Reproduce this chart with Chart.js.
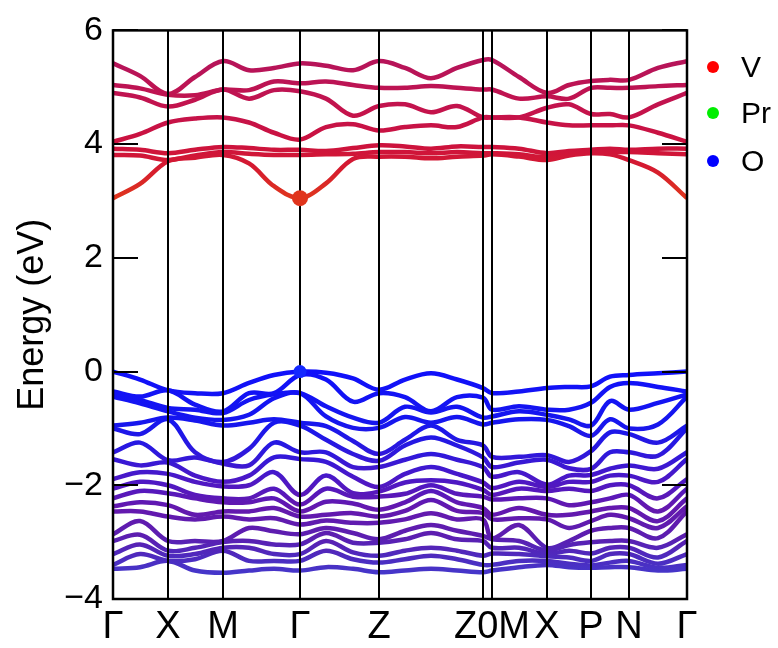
<!DOCTYPE html>
<html>
<head>
<meta charset="utf-8">
<title>Band structure</title>
<script src="https://cdn.jsdelivr.net/npm/chart.js@4.4.0/dist/chart.umd.min.js"></script>
<style>
    html, body { margin: 0; padding: 0; background: #fff; }
    #wrap { position: relative; width: 778px; height: 648px; }
    .key { position: absolute; left: 707px; height: 36px; line-height: 36px;
           font: 30px "Liberation Sans", Arial, sans-serif; color: #000; white-space: nowrap; }
    .key i { display: inline-block; width: 12px; height: 12px; border-radius: 50%;
             margin-right: 22px; vertical-align: middle; position: relative; top: -2px; }
</style>
</head>
<body>
<div id="wrap">
    <canvas id="bands" width="778" height="648"></canvas>
    <div class="key" style="top:50px"><i style="background:#ff0000"></i>V</div>
    <div class="key" style="top:96px"><i style="background:#00ee00"></i>Pr</div>
    <div class="key" style="top:144px"><i style="background:#0000ff"></i>O</div>
</div>
<script>
// k-path distance of each sampled point, high-symmetry points and their labels
const kPath = [0, 27, 55, 82, 110, 136, 161, 187, 213, 240, 266, 292, 318, 344, 370, 379, 406, 434, 456, 478, 497, 516, 545, 574];
const kTicks = [0, 55, 110, 187, 266, 370, 379, 434, 478, 516, 574];
const kLabels = ['Γ', 'X', 'M', 'Γ', 'Z', 'Z0', 'M', 'X', 'P', 'N', 'Γ'];

// conduction bands (eV)
const cb1 = [3.05, 3.30, 3.70, 3.76, 3.81, 3.66, 3.26, 3.05, 3.31, 3.74, 3.78, 3.78, 3.75, 3.78, 3.80, 3.82, 3.78, 3.72, 3.80, 3.84, 3.82, 3.72, 3.50, 3.05];
const cb2 = [3.81, 3.80, 3.72, 3.80, 3.86, 3.83, 3.81, 3.81, 3.82, 3.83, 3.86, 3.86, 3.84, 3.86, 3.84, 3.84, 3.82, 3.77, 3.84, 3.86, 3.86, 3.86, 3.84, 3.82];
const cb3 = [3.92, 3.90, 3.84, 3.90, 3.95, 3.93, 3.90, 3.90, 3.88, 3.93, 3.98, 3.96, 3.92, 3.96, 3.95, 3.95, 3.92, 3.84, 3.88, 3.90, 3.92, 3.90, 3.92, 3.92];
const cb4 = [4.04, 4.18, 4.38, 4.45, 4.47, 4.38, 4.20, 4.08, 4.30, 4.35, 4.24, 4.30, 4.33, 4.30, 4.47, 4.47, 4.47, 4.38, 4.33, 4.33, 4.33, 4.33, 4.20, 4.04];
const cb5 = [4.90, 4.82, 4.66, 4.78, 4.96, 4.80, 4.95, 4.93, 4.80, 4.50, 4.67, 4.70, 4.56, 4.67, 4.47, 4.47, 4.47, 4.64, 4.70, 4.53, 4.53, 4.47, 4.70, 4.90];
const cb6 = [5.04, 4.98, 4.87, 4.86, 4.96, 4.95, 5.10, 5.07, 5.10, 5.04, 4.99, 4.99, 5.02, 4.99, 4.96, 4.96, 4.80, 4.84, 4.80, 4.99, 4.99, 4.99, 5.02, 5.04];
const cb7 = [5.42, 5.20, 4.88, 5.18, 5.46, 5.30, 5.34, 5.42, 5.38, 5.30, 5.46, 5.34, 5.16, 5.34, 5.48, 5.48, 5.18, 4.90, 5.04, 5.11, 5.13, 5.13, 5.34, 5.46];

// valence bands (eV)
const vb01 = [0.00, -0.14, -0.33, -0.38, -0.38, -0.20, -0.06, 0.00, -0.02, -0.12, -0.32, -0.14, -0.03, -0.14, -0.29, -0.38, -0.35, -0.29, -0.27, -0.26, -0.09, -0.06, -0.03, 0.00];
const vb02 = [-0.35, -0.44, -0.33, -0.58, -0.70, -0.38, -0.38, -0.06, -0.14, -0.53, -0.38, -0.45, -0.70, -0.45, -0.46, -0.67, -0.61, -0.67, -0.67, -0.55, -0.27, -0.20, -0.27, -0.35];
const vb03 = [-0.40, -0.50, -0.64, -0.67, -0.73, -0.50, -0.40, -0.38, -0.61, -0.81, -0.90, -0.62, -0.72, -0.62, -0.81, -0.79, -0.70, -0.76, -0.84, -0.95, -0.52, -0.67, -0.55, -0.40];
const vb04 = [-0.44, -0.56, -0.70, -0.81, -0.85, -0.76, -0.47, -0.38, -0.79, -0.99, -0.99, -0.80, -0.90, -0.80, -0.93, -0.90, -0.84, -0.85, -0.96, -1.13, -0.84, -1.00, -0.93, -0.44];
const vb05 = [-0.95, -0.90, -0.81, -0.86, -0.95, -0.90, -0.84, -0.90, -0.96, -1.22, -1.45, -1.20, -0.95, -1.20, -1.30, -1.50, -1.50, -1.47, -1.59, -1.40, -1.07, -1.10, -1.25, -0.95];
const vb06 = [-1.00, -1.10, -0.84, -1.42, -1.59, -1.36, -0.90, -0.95, -1.20, -1.45, -1.57, -1.30, -1.16, -1.30, -1.51, -1.68, -1.60, -1.55, -1.70, -1.71, -1.42, -1.42, -1.48, -1.00];
const vb07 = [-1.42, -1.25, -1.56, -1.51, -1.62, -1.65, -1.25, -1.42, -1.42, -1.68, -1.68, -1.55, -1.45, -1.55, -1.68, -1.85, -1.77, -1.99, -1.83, -1.82, -1.71, -1.65, -1.71, -1.42];
const vb08 = [-1.54, -1.65, -1.60, -1.83, -1.94, -1.83, -1.51, -1.54, -1.59, -1.85, -2.03, -1.80, -1.68, -1.80, -1.95, -2.05, -1.94, -2.03, -1.94, -1.94, -1.83, -1.83, -1.94, -1.54];
const vb09 = [-1.89, -1.77, -1.80, -1.94, -2.02, -2.00, -1.77, -2.17, -1.83, -2.14, -2.11, -1.95, -1.91, -1.95, -2.08, -2.17, -2.06, -2.10, -2.06, -2.10, -2.00, -2.00, -2.23, -1.89];
const vb10 = [-2.06, -1.94, -2.00, -2.17, -2.23, -2.23, -2.06, -2.34, -2.06, -2.20, -2.20, -2.15, -2.00, -2.15, -2.20, -2.25, -2.23, -2.23, -2.35, -2.30, -2.23, -2.17, -2.46, -2.06];
const vb11 = [-2.23, -2.10, -2.14, -2.23, -2.30, -2.30, -2.23, -2.46, -2.29, -2.32, -2.43, -2.30, -2.10, -2.30, -2.40, -2.52, -2.40, -2.52, -2.52, -2.46, -2.40, -2.40, -2.63, -2.23];
const vb12 = [-2.37, -2.30, -2.35, -2.52, -2.46, -2.46, -2.40, -2.55, -2.52, -2.49, -2.55, -2.45, -2.26, -2.45, -2.49, -2.60, -2.58, -2.60, -2.75, -2.63, -2.52, -2.58, -2.75, -2.37];
const vb13 = [-2.46, -2.46, -2.55, -2.60, -2.55, -2.60, -2.58, -2.69, -2.62, -2.66, -2.66, -2.60, -2.49, -2.60, -2.60, -2.93, -2.70, -3.10, -2.98, -2.80, -2.75, -2.75, -2.93, -2.46];
const vb14 = [-2.86, -2.63, -2.98, -2.98, -2.98, -2.75, -2.81, -2.86, -2.75, -2.84, -2.95, -2.80, -2.70, -2.80, -2.89, -2.95, -2.98, -3.15, -3.05, -3.00, -2.98, -2.98, -3.10, -2.86];
const vb15 = [-2.98, -2.87, -3.15, -3.10, -3.00, -2.98, -3.04, -3.04, -2.84, -3.01, -3.01, -2.95, -2.84, -2.95, -2.98, -3.10, -3.10, -3.21, -3.15, -3.20, -3.10, -3.10, -3.27, -2.98];
const vb16 = [-3.21, -3.04, -3.24, -3.21, -3.10, -3.10, -3.21, -3.21, -2.98, -3.18, -3.24, -3.15, -3.10, -3.15, -3.24, -3.20, -3.21, -3.25, -3.27, -3.33, -3.21, -3.21, -3.38, -3.21];
const vb17 = [-3.40, -3.21, -3.33, -3.30, -3.15, -3.33, -3.33, -3.33, -3.15, -3.30, -3.36, -3.30, -3.24, -3.30, -3.40, -3.40, -3.33, -3.33, -3.38, -3.41, -3.36, -3.33, -3.45, -3.40];
const vb18 = [-3.47, -3.44, -3.33, -3.50, -3.54, -3.50, -3.47, -3.50, -3.44, -3.47, -3.53, -3.50, -3.47, -3.50, -3.53, -3.50, -3.44, -3.40, -3.44, -3.45, -3.44, -3.44, -3.50, -3.47];

// band edges marked with dots (CBM, VBM)
const edgeK = [187, 187];
const edgeE = [3.05, 0.00];

const bands = [cb1, cb2, cb3, cb4, cb5, cb6, cb7,
    vb01, vb02, vb03, vb04, vb05, vb06, vb07, vb08, vb09, vb10, vb11, vb12, vb13, vb14, vb15, vb16, vb17, vb18];

const energyMin = -4;
const energyMax = 6;

// projection colour, approximated by energy
const colourStops = [
    [6.0, '#b0135c'], [5.3, '#b81458'], [4.6, '#c4134c'], [4.0, '#cc123e'],
    [3.6, '#d51a30'], [3.0, '#e0381c'], [0.4, '#1010ff'], [0.0, '#1010fa'],
    [-0.9, '#1616ee'], [-1.4, '#2c18de'], [-1.9, '#4c18c6'], [-2.4, '#6418ae'],
    [-2.9, '#5c1eb0'], [-3.3, '#4c2cc0'], [-3.6, '#4438cc'], [-4.0, '#4438cc']
];

Chart.defaults.font.family = '"Liberation Sans", Arial, sans-serif';
Chart.defaults.color = '#000';

let gradient, gradientKey;

function energyGradient(chart) {
    const area = chart.chartArea;
    if (!area) {
        return '#000';
    }
    const key = area.top + ':' + area.bottom;
    if (gradient && gradientKey === key) {
        return gradient;
    }
    const y = chart.scales.y;
    gradient = chart.ctx.createLinearGradient(0, y.getPixelForValue(energyMax), 0, y.getPixelForValue(energyMin));
    colourStops.forEach(([e, c]) => gradient.addColorStop((energyMax - e) / (energyMax - energyMin), c));
    gradientKey = key;
    return gradient;
}

function bandDataset(energies) {
    return {
        type: 'line',
        data: kPath.map((k, i) => ({ x: k, y: energies[i] })),
        borderColor: ctx => energyGradient(ctx.chart),
        borderWidth: 4.5,
        pointRadius: 0,
        tension: 0.35,
        fill: false
    };
}

// frame, symmetry lines and inward ticks
const framePlugin = {
    id: 'frame',
    beforeDatasetDraw(chart, args) {
        if (args.index !== 0) return; // the edge dots (dataset 0) go on top of the lines
        const { ctx, chartArea, scales } = chart;
        ctx.save();
        ctx.strokeStyle = '#000';
        ctx.lineWidth = 2;
        kTicks.forEach(k => {
            const x = Math.round(scales.x.getPixelForValue(k));
            ctx.beginPath();
            ctx.moveTo(x, chartArea.top);
            ctx.lineTo(x, chartArea.bottom);
            ctx.stroke();
        });
        ctx.restore();
    },
    afterDraw(chart) {
        const { ctx, chartArea, scales } = chart;
        ctx.save();
        ctx.strokeStyle = '#000';
        ctx.lineWidth = 2.5;
        ctx.strokeRect(chartArea.left, chartArea.top, chartArea.right - chartArea.left, chartArea.bottom - chartArea.top);
        ctx.lineWidth = 2;
        scales.y.ticks.forEach(t => {
            const y = Math.round(scales.y.getPixelForValue(t.value));
            ctx.beginPath();
            ctx.moveTo(chartArea.left, y);
            ctx.lineTo(chartArea.left + 25, y);
            ctx.moveTo(chartArea.right, y);
            ctx.lineTo(chartArea.right - 25, y);
            ctx.stroke();
        });
        ctx.restore();
    }
};

const datasets = [{
    type: 'scatter',
    data: edgeK.map((k, i) => ({ x: k, y: edgeE[i] })),
    pointRadius: [8, 6.5],
    pointBackgroundColor: ['#e0341c', '#1428ff'],
    pointBorderWidth: 0
}].concat(bands.map(bandDataset));

new Chart('bands', {
    data: { datasets: datasets },
    options: {
        responsive: false,
        animation: false,
        layout: { padding: { top: 22, right: 91, bottom: 0, left: 0 } },
        plugins: { legend: { display: false }, tooltip: { enabled: false } },
        scales: {
            x: {
                type: 'linear',
                min: 0,
                max: 574,
                afterBuildTicks: scale => { scale.ticks = kTicks.map(v => ({ value: v })); },
                afterFit: scale => { scale.height = 49; },
                grid: { display: false, drawTicks: false },
                border: { display: false },
                ticks: {
                    autoSkip: false,
                    maxRotation: 0,
                    padding: 6,
                    color: '#000',
                    font: { size: 38 },
                    callback: (value, index) => {
                        const next = kTicks[index + 1];
                        const prev = kTicks[index - 1];
                        if (next !== undefined && next - kTicks[index] < 15) return '';
                        if (prev !== undefined && kTicks[index] - prev < 15) return kLabels[index - 1] + kLabels[index];
                        return kLabels[index];
                    }
                }
            },
            y: {
                min: energyMin,
                max: energyMax,
                afterFit: scale => { scale.width = 113; },
                grid: { display: false, drawTicks: false },
                border: { display: false },
                ticks: {
                    stepSize: 2,
                    padding: 10,
                    color: '#000',
                    font: { size: 34 },
                    callback: v => String(v).replace('-', '\u2212')
                },
                title: {
                    display: true,
                    text: 'Energy (eV)',
                    color: '#000',
                    font: { size: 36 },
                    padding: { top: 11, bottom: 0 }
                }
            }
        }
    },
    plugins: [framePlugin]
});
</script>
</body>
</html>
